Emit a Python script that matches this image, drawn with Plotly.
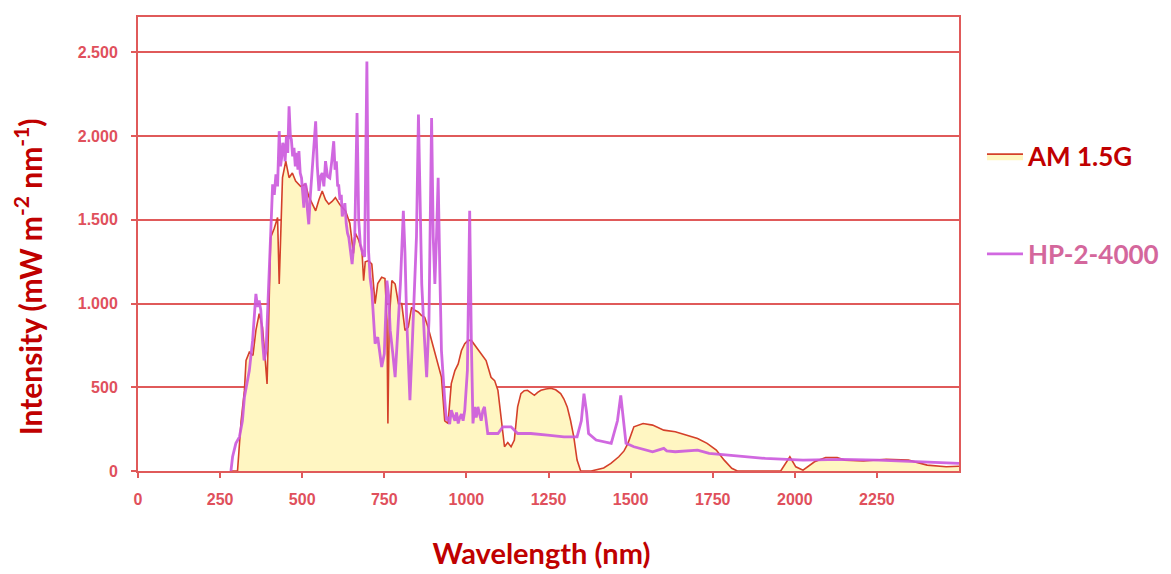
import plotly.graph_objects as go

# ---------------- data ----------------
am_wavelength = [280, 303, 314, 324, 329, 339, 350, 359, 369, 379, 386, 393, 398, 404, 415, 425, 430, 435, 440,
                 450, 460, 470, 480, 495, 510, 520, 530, 541, 551, 561, 571, 581, 591, 601, 615, 632, 645, 656,
                 662, 672, 682, 687, 692, 702, 712, 718, 722, 730, 742, 752, 758, 761, 765, 773, 783, 793, 803,
                 813, 823, 833, 843, 853, 863, 873, 883, 894, 905, 915, 924, 934, 944, 954, 965, 975, 985, 995,
                 1005, 1015, 1030, 1045, 1060, 1075, 1086, 1096, 1106, 1116, 1126, 1136, 1146, 1156, 1166, 1176,
                 1186, 1196, 1207, 1217, 1227, 1242, 1257, 1272, 1287, 1297, 1307, 1317, 1327, 1337, 1348, 1380,
                 1418, 1440, 1464, 1480, 1492, 1510, 1538, 1567, 1601, 1636, 1670, 1704, 1733, 1761, 1785, 1808,
                 1825, 1900, 1957, 1985, 2003, 2025, 2040, 2060, 2094, 2129, 2152, 2209, 2278, 2346, 2403, 2461,
                 2500]
am_intensity = [0, 0, 300, 480, 660, 710, 690, 840, 940, 860, 700, 520, 900, 1395, 1450, 1514, 1117, 1500, 1752,
                1851, 1752, 1780, 1732, 1700, 1712, 1640, 1600, 1554, 1620, 1673, 1620, 1594, 1610, 1633, 1590,
                1554, 1480, 1300, 1420, 1380, 1315, 1137, 1250, 1256, 1236, 1100, 1000, 1120, 1157, 1150, 900,
                284, 900, 1137, 1117, 1000, 1000, 840, 860, 978, 960, 950, 930, 918, 860, 780, 700, 640, 561,
                300, 284, 522, 600, 640, 720, 760, 780, 780, 740, 700, 660, 560, 540, 482, 303, 145, 170, 145,
                185, 383, 462, 480, 482, 470, 452, 470, 482, 490, 494, 485, 462, 430, 383, 303, 204, 65, 0, 0,
                18, 45, 85, 120, 165, 264, 284, 274, 244, 234, 214, 194, 165, 125, 65, 16,
                0, 0, 0, 85, 25, 5, 25, 55, 81, 81, 65, 60, 70, 65, 35, 25,
                28]

hp_wavelength = [283, 288, 298, 309, 318, 324, 339, 349, 359, 364, 369, 374, 379, 384, 390, 400, 405, 410, 415, 420,
                 425, 430, 434, 438, 441, 445, 448, 452, 456, 460, 464, 467, 471, 475, 479, 483, 487, 490, 494,
                 498, 502, 505, 509, 512, 516, 520, 525, 530, 535, 541, 546, 551, 556, 561, 566, 571, 577, 584,
                 590, 596, 600, 604, 608, 611, 615, 619, 622, 626, 630, 634, 638, 642, 647, 652, 656, 660, 667,
                 672, 677, 684, 690, 697, 702, 707, 712, 717, 722, 730, 736, 742, 750, 758, 763, 768, 776, 783,
                 790, 799, 808, 813, 818, 823, 828, 836, 843, 848, 854, 859, 864, 872, 879, 886, 890, 894, 899,
                 904, 909, 914, 919, 924, 934, 939, 944, 949, 954, 960, 965, 970, 975, 980, 985, 990, 995, 1003,
                 1010, 1015, 1020, 1025, 1030, 1035, 1040, 1045, 1050, 1055, 1065, 1075, 1096, 1111, 1136, 1156,
                 1196, 1247, 1297, 1337, 1350, 1358, 1366, 1372, 1395, 1441, 1460, 1470, 1478, 1486, 1510, 1567,
                 1601, 1610, 1636, 1704, 1739, 1796, 1910, 2025, 2140, 2255, 2370, 2500]
hp_intensity = [0, 85, 165, 204, 300, 440, 600, 780, 1058, 980, 1018, 960, 780, 660, 720, 1276, 1500, 1712, 1650,
                1772, 1700, 2030, 1820, 1880, 1960, 1930, 1850, 2000, 1900, 2179, 2000, 1980, 1880, 1930, 1820,
                1900, 1800, 1911, 1780, 1750, 1650, 1573, 1720, 1700, 1560, 1474, 1650, 1800, 1900, 2089, 1820,
                1673, 1760, 1780, 1700, 1851, 1760, 1750, 1850, 1970, 1800, 1850, 1700, 1712, 1620, 1650, 1520,
                1554, 1600, 1480, 1420, 1395, 1300, 1236, 1330, 1400, 2139, 1500, 1355, 1300, 1280, 2446, 1315,
                1150, 1077, 900, 760, 800, 700, 621, 700, 1137, 1050, 840, 700, 561, 800, 1117, 1554, 1300, 918,
                700, 423, 800, 1117, 1400, 2129, 1500, 1117, 800, 561, 900, 1500, 2109, 1400, 1117, 1400, 1752,
                1200, 720, 423, 303, 323, 280, 363, 330, 300, 350, 284, 320, 340, 300, 363, 600, 1554, 780, 284,
                383, 320, 383, 330, 300, 360, 383, 224, 224, 224, 264, 264, 224, 224, 214, 204, 204, 300, 462,
                350, 224, 185, 165, 300, 452, 300, 165, 145, 115, 135, 120, 115, 125, 105, 95, 75, 65, 70, 65,
                55, 45]

x_tick_vals = [0, 250, 500, 750, 1000, 1250, 1500, 1750, 2000, 2250]
x_tick_text = ["0", "250", "500", "750", "1000", "1250", "1500", "1750", "2000", "2250"]
y_tick_vals = [0, 500, 1000, 1500, 2000, 2500]
y_tick_text = ["0", "500", "1.000", "1.500", "2.000", "2.500"]

# ---------------- style ----------------
FRAME = "#e05a5a"
TICK_COL = "#e0505c"
TITLE_COL = "#c00000"
AM_LINE = "#d4402a"
AM_FILL = "#fff6c2"
HP_LINE = "#cc58dd"
TITLE_FONT = "Lato"

fig = go.Figure()
fig.add_trace(go.Scatter(
    x=am_wavelength, y=am_intensity, mode="lines", fill="tozeroy",
    fillcolor=AM_FILL, line=dict(color=AM_LINE, width=1.6),
    name="<span style='color:#c00000'>AM 1.5G</span>", legendgroup="am",
))
fig.add_trace(go.Scatter(
    x=hp_wavelength, y=hp_intensity, mode="lines",
    line=dict(color=HP_LINE, width=2.8), opacity=0.9,
    name="<span style='color:#d4679c'>HP-2-4000</span>", legendgroup="hp",
))

fig.update_layout(
    width=1163, height=566,
    margin=dict(l=130, r=207, t=7, b=103),
    paper_bgcolor="white", plot_bgcolor="white",
    showlegend=True,
    legend=dict(
        x=1.028, xanchor="left", y=0.745, yanchor="top",
        font=dict(family=TITLE_FONT, size=26, weight="bold"),
        tracegroupgap=61, bgcolor="rgba(0,0,0,0)", itemwidth=36,
    ),
)
fig.update_xaxes(
    range=[0, 2500], tickvals=x_tick_vals, ticktext=x_tick_text,
    showgrid=False, zeroline=False,
    showline=True, linecolor=FRAME, linewidth=2, mirror=True,
    ticks="outside", ticklen=5, tickwidth=2, tickcolor=FRAME,
    tickfont=dict(family="Liberation Sans", size=16, color=TICK_COL, weight="bold"),
    ticklabelstandoff=8,
    title=dict(text="Wavelength (nm)&nbsp;&nbsp;",
               font=dict(family=TITLE_FONT, size=29, color=TITLE_COL, weight="bold"),
               standoff=36),
)
fig.update_yaxes(
    range=[0, 2712], tickvals=y_tick_vals, ticktext=y_tick_text,
    showgrid=True, gridcolor=FRAME, gridwidth=2, zeroline=False,
    showline=True, linecolor=FRAME, linewidth=2, mirror=True,
    ticks="outside", ticklen=5, tickwidth=2, tickcolor=FRAME,
    tickfont=dict(family="Liberation Sans", size=16, color=TICK_COL, weight="bold"),
    ticklabelstandoff=10,
    title=dict(text="Intensity (mW m<sup>-2</sup> nm<sup>-1</sup>)" + "&nbsp;" * 9,
               font=dict(family=TITLE_FONT, size=30, color=TITLE_COL, weight="bold"),
               standoff=37),
)

fig.write_html("out.html")
